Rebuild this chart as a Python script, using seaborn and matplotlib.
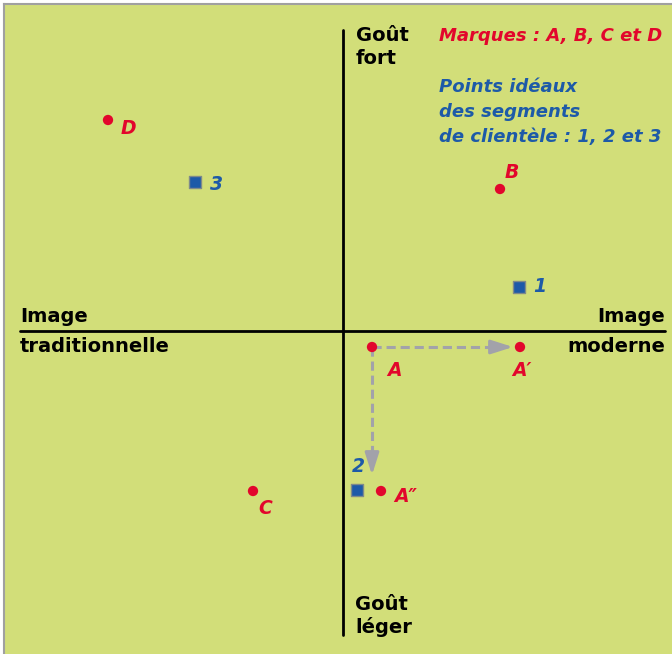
import pandas as pd
import numpy as np
import matplotlib
matplotlib.use("Agg")
import matplotlib.pyplot as plt
import seaborn as sns

# positionnement : image (x) vs goût (y), axes croisés à l'origine
marques = ["A", "A\u2032", "A\u2033", "B", "C", "D"]
marques_x = [29, 177, 38, 157, -90, -235]
marques_y = [-16, -16, -160, 142, -160, 211]

segments = ["1", "2", "3"]
segments_x = [176, 14, -148]
segments_y = [44, -159, 149]

# decalage des etiquettes (x, y)
off_marques = {"A": (22, -23), "A\u2032": (2, -23), "A\u2033": (25, -5),
               "B": (12, 17), "C": (12, -18), "D": (20, -8)}
off_segments = {"1": (21, 0), "2": (1, 24), "3": (22, -3)}

rouge = "#e2062c"
bleu = "#1d5aa8"
vert = "#d2de79"
gris = "#a2a2aa"

sns.set_theme(style="white")
plt.rcParams['font.family'] = ['DejaVu Sans']

df_m = pd.DataFrame({"x": marques_x, "y": marques_y, "nom": marques})
df_s = pd.DataFrame({"x": segments_x, "y": segments_y, "nom": segments})

fig = plt.figure(figsize=(6.72, 6.54), dpi=100, facecolor="white")
ax = fig.add_axes([4/672, 0, 668/672, 650/654])
ax.set_facecolor(vert)
ax.set_xlim(-339, 329)
ax.set_ylim(-323, 327)
ax.set_xticks([])
ax.set_yticks([])
for s in ["bottom", "right"]:
    ax.spines[s].set_visible(False)
for s in ["top", "left"]:
    ax.spines[s].set_color("#a0a0a0")
    ax.spines[s].set_linewidth(1.5)

# axes
ax.plot([0, 0], [301, -304], color="black", lw=2)
ax.plot([-323, 322], [0, 0], color="black", lw=2)

# fleches de repositionnement
a_x, a_y = marques_x[0], marques_y[0]
ax.plot([a_x, 160], [a_y, a_y], color=gris, lw=2.2, ls=(0, (3, 1.6)), zorder=2)
ax.plot([a_x, a_x], [a_y, -128], color=gris, lw=2.2, ls=(0, (3, 1.6)), zorder=2)
ax.annotate("", xy=(170, a_y), xytext=(150, a_y),
            arrowprops=dict(arrowstyle="-|>,head_length=1.1,head_width=0.35",
                            color=gris, lw=2.2, shrinkA=0, shrinkB=0))
ax.annotate("", xy=(a_x, -144), xytext=(a_x, -124),
            arrowprops=dict(arrowstyle="-|>,head_length=1.1,head_width=0.35",
                            color=gris, lw=2.2, shrinkA=0, shrinkB=0))

sns.scatterplot(data=df_m, x="x", y="y", color=rouge, s=55, marker="o",
                edgecolor="none", ax=ax, zorder=4)
sns.scatterplot(data=df_s, x="x", y="y", color=bleu, s=75, marker="s",
                edgecolor="#7f8a8a", linewidth=1, ax=ax, zorder=4)
ax.set_xlabel("")
ax.set_ylabel("")

for _, r in df_m.iterrows():
    dx, dy = off_marques[r["nom"]]
    ax.text(r["x"] + dx, r["y"] + dy, r["nom"], color=rouge, fontsize=13.5,
            fontweight="bold", fontstyle="italic", ha="center", va="center")
for _, r in df_s.iterrows():
    dx, dy = off_segments[r["nom"]]
    ax.text(r["x"] + dx, r["y"] + dy, r["nom"], color=bleu, fontsize=13.5,
            fontweight="bold", fontstyle="italic", ha="center", va="center")

# libelles des axes
kw = dict(color="black", fontsize=14, fontweight="bold")
ax.text(13, 290, "Goût", va="baseline", **kw)
ax.text(13, 267, "fort", va="baseline", **kw)
ax.text(12, -279, "Goût", va="baseline", **kw)
ax.text(12, -302, "léger", va="baseline", **kw)
ax.text(-323, 9, "Image", va="baseline", ha="left", **kw)
ax.text(-323, -21, "traditionnelle", va="baseline", ha="left", **kw)
ax.text(322, 9, "Image", va="baseline", ha="right", **kw)
ax.text(322, -21, "moderne", va="baseline", ha="right", **kw)

# legende
lkw = dict(fontsize=13, fontweight="bold", fontstyle="italic", va="baseline")
ax.text(96, 290, "Marques : A, B, C et D", color=rouge, **lkw)
ax.text(96, 239, "Points idéaux", color=bleu, **lkw)
ax.text(96, 214, "des segments", color=bleu, **lkw)
ax.text(96, 189, "de clientèle : 1, 2 et 3", color=bleu, **lkw)

fig.savefig("out.png", dpi=100, facecolor="white")
